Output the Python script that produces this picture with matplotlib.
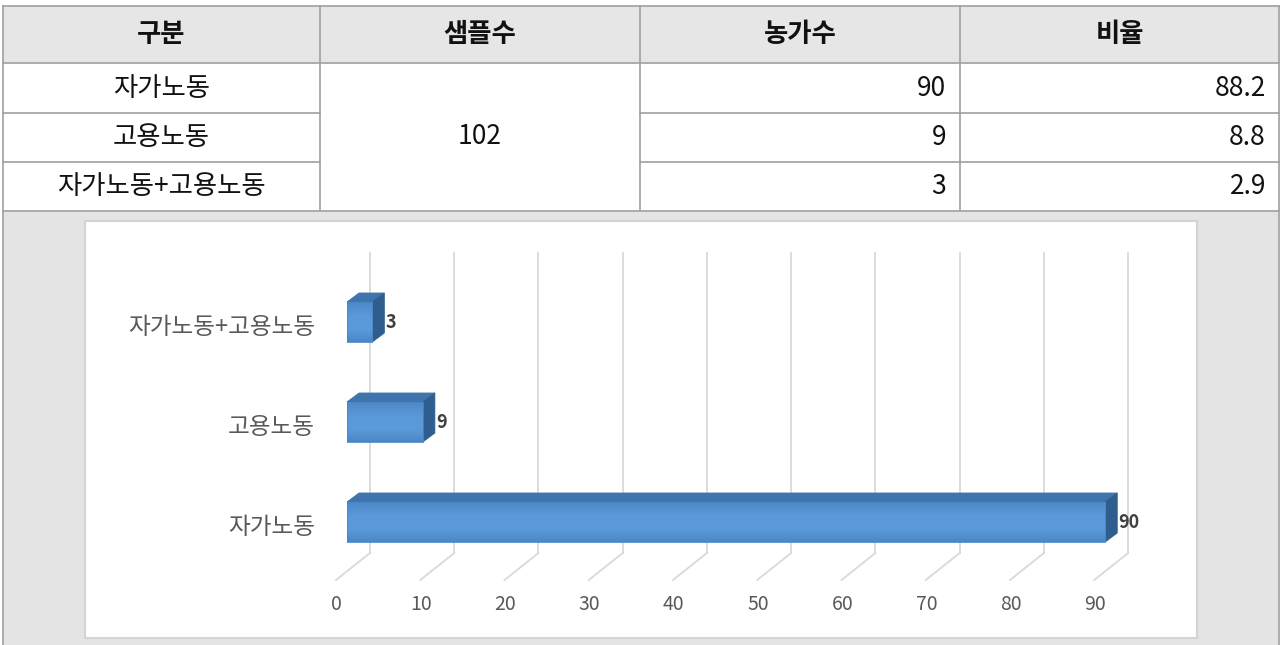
import numpy as np
import matplotlib.pyplot as plt
from matplotlib.colors import LinearSegmentedColormap
from matplotlib.patches import Polygon, Rectangle

plt.rcParams['font.family'] = ['Noto Sans CJK KR', 'DejaVu Sans']

# table contents
headers = ['구분', '샘플수', '농가수', '비율']
categories = ['자가노동', '고용노동', '자가노동+고용노동']
sample_size = 102
households = [90, 9, 3]
ratios = [88.2, 8.8, 2.9]
value_ticks = list(range(0, 100, 10))

W, H = 1282, 645
fig = plt.figure(figsize=(W / 100, H / 100), dpi=100)


def box(x0, y0, x1, y1):
    # pixel box measured from the top-left corner -> figure fraction
    return [x0 / W, 1 - y1 / H, (x1 - x0) / W, (y1 - y0) / H]


# ---- page / table layer -------------------------------------------------
bg = fig.add_axes([0, 0, 1, 1])
bg.set_xlim(0, W)
bg.set_ylim(H, 0)
bg.axis('off')

col_x = [3, 320, 640, 960, 1279]
row_y = [6, 63, 113, 162, 211]
line_c = '#a0a0a0'
fs = 19
body = dict(fontsize=fs, color='#111111', fontweight='light')

bg.add_patch(Rectangle((col_x[0], row_y[0]), col_x[-1] - col_x[0], row_y[1] - row_y[0],
                       fc='#e6e6e6', ec='none'))
bg.add_patch(Rectangle((col_x[0], row_y[-1]), col_x[-1] - col_x[0], H - row_y[-1] + 5,
                       fc='#e4e4e4', ec='none'))

for j, y in enumerate(row_y):
    if j in (2, 3):
        # merged sample-size cell has no inner lines
        bg.plot([col_x[0], col_x[1]], [y, y], color=line_c, lw=1.2)
        bg.plot([col_x[2], col_x[4]], [y, y], color=line_c, lw=1.2)
    else:
        bg.plot([col_x[0], col_x[4]], [y, y], color=line_c, lw=1.2)
for x in col_x[1:-1]:
    bg.plot([x, x], [row_y[0], row_y[-1]], color=line_c, lw=1.2)
for x in (col_x[0], col_x[-1]):
    bg.plot([x, x], [row_y[0], H + 2], color=line_c, lw=1.2)

for k, h in enumerate(headers):
    bg.text((col_x[k] + col_x[k + 1]) / 2, (row_y[0] + row_y[1]) / 2, h,
            ha='center', va='center', fontsize=fs, fontweight='bold', color='#111111')

for r, cat in enumerate(categories):
    yc = (row_y[r + 1] + row_y[r + 2]) / 2
    bg.text((col_x[0] + col_x[1]) / 2, yc, cat, ha='center', va='center', **body)
    bg.text(col_x[3] - 14, yc, str(households[r]), ha='right', va='center', **body)
    bg.text(col_x[4] - 13, yc, f'{ratios[r]:.1f}', ha='right', va='center', **body)

bg.text((col_x[1] + col_x[2]) / 2, (row_y[1] + row_y[-1]) / 2, str(sample_size),
        ha='center', va='center', **body)

# ---- 3D-style bar chart -------------------------------------------------
ax = fig.add_axes(box(85, 221, 1197, 638))
ax.set_facecolor('white')
ax.set_xticks([])
ax.set_yticks([])
for s in ax.spines.values():
    s.set_color('#d4d4d4')
    s.set_linewidth(1.5)

grid_c = '#d9d9d9'
wall_dx = 2.73      # back wall offset in value units
for t in value_ticks:
    ax.plot([t + wall_dx, t + wall_dx], [-0.31, 2.69], color=grid_c, lw=1.3, zorder=1)
    ax.plot([t - 1.3, t + wall_dx], [-0.58, -0.31], color=grid_c, lw=1.3, zorder=1)
    ax.text(t - 1.2, -0.83, str(t), ha='center', va='center', fontsize=14, color='#595959')

half = 0.2
dx, dy = 1.43, 0.09
top_c, side_c = '#3f74ad', '#2f5e8e'
front_cmap = LinearSegmentedColormap.from_list(
    'front', ['#4b87c7', '#5c9bdb', '#5a98d8', '#4d89c9'])
grad = np.linspace(0, 1, 64).reshape(-1, 1)

for i, (cat, v) in enumerate(zip(categories, households)):
    ax.add_patch(Polygon([(0, i + half), (v, i + half), (v + dx, i + half + dy),
                          (dx, i + half + dy)], closed=True, fc=top_c, ec=top_c, lw=0.6, zorder=3))
    ax.add_patch(Polygon([(v, i - half), (v + dx, i - half + dy), (v + dx, i + half + dy),
                          (v, i + half)], closed=True, fc=side_c, ec=side_c, lw=0.6, zorder=3))
    front = Rectangle((0, i - half), v, 2 * half, fc='none', ec='#4a86c5', lw=0.6, zorder=5)
    ax.add_patch(front)
    img = ax.imshow(grad, cmap=front_cmap, aspect='auto', origin='lower',
                    extent=(0, v, i - half, i + half), zorder=4, interpolation='bilinear')
    img.set_clip_path(front)
    ax.text(-3.8, i - 0.06, cat, ha='right', va='center', fontsize=17, color='#595959')
    ax.text(v + 1.55, i, str(v), ha='left', va='center', fontsize=13,
            fontweight='bold', color='#404040')

ax.set_xlim(-31.1, 100.9)
ax.set_ylim(-1.16, 3.01)

fig.savefig('out.png', dpi=100)
